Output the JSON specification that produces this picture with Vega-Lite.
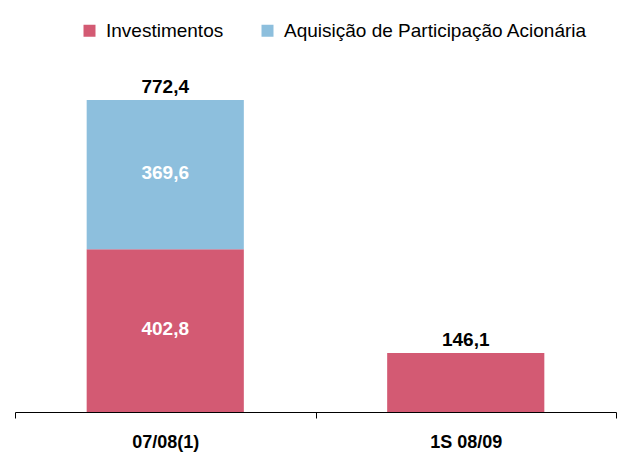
{
  "$schema": "https://vega.github.io/schema/vega-lite/v6.json",
  "autosize": {"type": "none"},
  "width": 601,
  "height": 352,
  "padding": {"left": 15, "top": 60, "right": 25, "bottom": 49},
  "background": "white",
  "config": {
    "view": {"stroke": null},
    "font": "Liberation Sans",
    "locale": {"number": {"decimal": ",", "thousands": ".", "grouping": [3], "currency": ["R$", ""]}}
  },
  "data": {
    "values": [
      {"periodo": "07/08(1)", "serie": "Investimentos", "valor": 402.8},
      {"periodo": "07/08(1)", "serie": "Aquisição de Participação Acionária", "valor": 369.6},
      {"periodo": "1S 08/09", "serie": "Investimentos", "valor": 146.1}
    ]
  },
  "encoding": {
    "x": {
      "field": "periodo", "type": "nominal", "sort": ["07/08(1)", "1S 08/09"],
      "scale": {"paddingInner": 0, "paddingOuter": 0},
      "axis": {
        "title": null, "labelAngle": 0, "tickBand": "extent", "domainColor": "black", "tickColor": "black",
        "tickSize": 6, "labelPadding": 15, "labelFontSize": 18, "labelFontWeight": "bold", "labelColor": "black",
        "labelFont": "Liberation Sans", "grid": false
      }
    }
  },
  "layer": [
    {
      "mark": {"type": "bar", "width": {"band": 0.523}},
      "encoding": {
        "y": {"field": "valor", "type": "quantitative", "stack": "zero", "scale": {"domain": [0, 871.4], "nice": false}, "axis": null},
        "color": {
          "field": "serie", "type": "nominal",
          "scale": {"domain": ["Investimentos", "Aquisição de Participação Acionária"], "range": ["#D35A73", "#8DBFDD"]},
          "legend": {
            "title": null, "orient": "none", "direction": "horizontal", "columns": 2, "legendX": 65, "legendY": -39,
            "symbolType": "square", "symbolSize": 144, "symbolStrokeWidth": 0, "symbolOpacity": 1,
            "labelFontSize": 19, "labelColor": "black", "labelFont": "Liberation Sans", "labelOffset": 7, "columnPadding": 34, "labelLimit": 400
          }
        },
        "order": {"field": "serie", "sort": "descending"}
      }
    },
    {
      "transform": [{"filter": "datum.periodo == '07/08(1)'"}],
      "mark": {"type": "text", "color": "white", "fontSize": 19, "fontWeight": "bold", "font": "Liberation Sans", "dy": -2},
      "encoding": {
        "y": {"field": "valor", "type": "quantitative", "stack": "zero", "bandPosition": 0.5},
        "text": {"field": "valor", "type": "quantitative", "format": ".1f"},
        "order": {"field": "serie", "sort": "descending"}
      }
    },
    {
      "mark": {"type": "text", "color": "black", "fontSize": 19, "fontWeight": "bold", "font": "Liberation Sans", "baseline": "bottom", "dy": -3},
      "encoding": {
        "y": {"aggregate": "sum", "field": "valor", "type": "quantitative"},
        "text": {"aggregate": "sum", "field": "valor", "type": "quantitative", "format": ".1f"}
      }
    }
  ]
}
